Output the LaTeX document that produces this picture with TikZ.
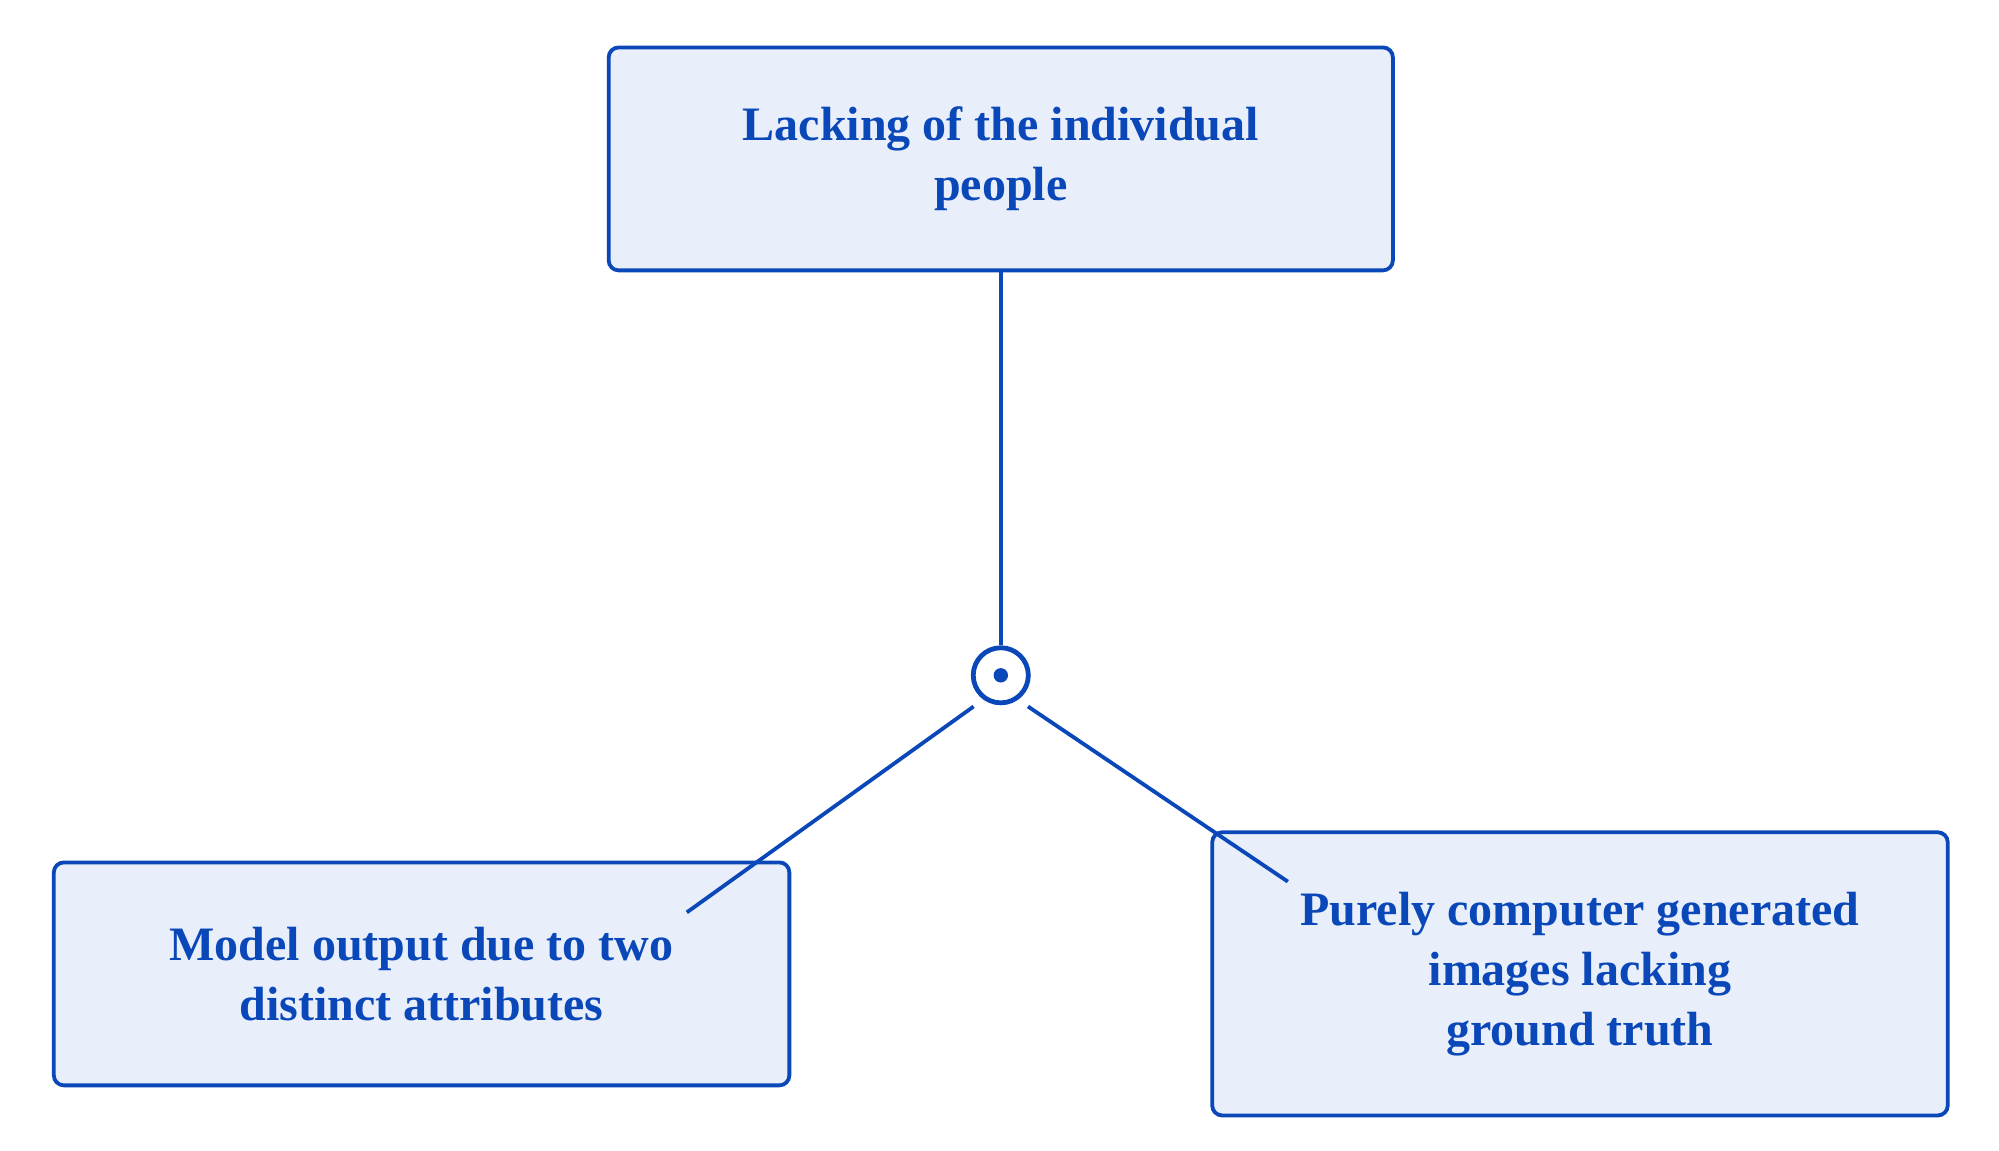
\documentclass[tikz,border=0pt]{standalone}
\usepackage{fontspec}
\setmainfont{Liberation Serif}
\usetikzlibrary{positioning}
\definecolor{lineblue}{HTML}{0A47B8}
\definecolor{boxfill}{HTML}{E8EFFA}
\begin{document}
\begin{tikzpicture}[x=0.6407pt,y=-0.6407pt]
    \tikzstyle{link}=[draw=lineblue,line width=1.9pt]
    \tikzstyle{cause}=[draw=lineblue,fill=boxfill,rounded corners=5pt,line width=1.9pt,
      text=lineblue,font=\fontsize{24}{30}\selectfont\bfseries,align=center,inner sep=0pt]
    \path[use as bounding box] (0,0) rectangle (1560,898);

    \node[cause,minimum width=612*0.6407pt,minimum height=174*0.6407pt] (lack) at (781,124) {Lacking of the individual\\people} ;
    \node[cause,minimum width=574*0.6407pt,minimum height=174*0.6407pt] (model) at (329,760) {Model output due to two\\distinct attributes} ;
    \node[cause,minimum width=574*0.6407pt,minimum height=221*0.6407pt] (pure) at (1233,760) {Purely computer generated\\images lacking\\ground truth} ;

    \node[draw=lineblue,circle,minimum size=43*0.6407pt,inner sep=0pt,line width=2.4pt] (join) at (781,527) {} ;
    \fill[lineblue] (join.center) circle (3.6pt) ;

    \coordinate (modelend) at (536,712) ;
    \coordinate (pureend) at (1005,688) ;

    \draw[link] (lack.south) -- (join.north) ;
    \draw[link] ([shift={(-3pt,-5pt)}]join.south west) -- (modelend) ;
    \draw[link] ([shift={(3pt,-5pt)}]join.south east) -- (pureend) ;
\end{tikzpicture}
\end{document}
